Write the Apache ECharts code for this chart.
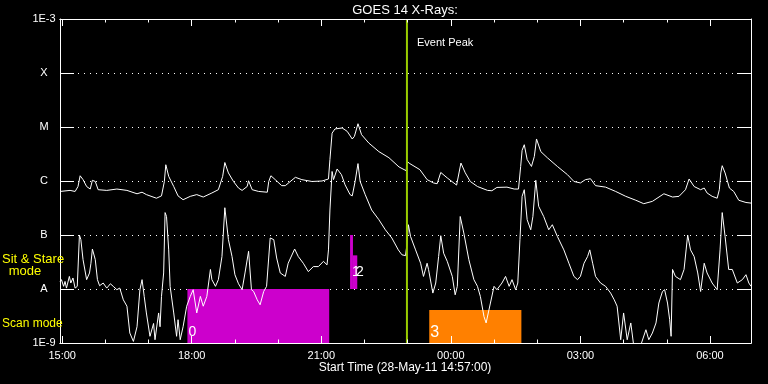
<!DOCTYPE html>
<html><head><meta charset="utf-8">
<script src="https://cdn.jsdelivr.net/npm/echarts@6/dist/echarts.min.js"></script>
<style>html,body{margin:0;padding:0;background:#000;}#c{width:768px;height:384px;}</style>
</head><body><div id="c"></div>
<script>
// ---- data ----
const chartTitle = 'GOES 14 X-Rays:';
const xAxisTitle = 'Start Time (28-May-11 14:57:00)';
const startTime = '14:57';
const spanHours = 16;
const xTickLabels = ['15:00','18:00','21:00','00:00','03:00','06:00'];
const hourTicks = ['15:00','16:00','17:00','18:00','19:00','20:00','21:00','22:00','23:00','00:00','01:00','02:00','03:00','04:00','05:00','06:00'];
const yTickValues = [1e-9,1e-8,1e-7,1e-6,1e-5,1e-4,1e-3];
const yTickLabels = ['1E-9','A','B','C','M','X','1E-3'];
const eventPeak = '22:59';

// long channel (1-8 A)
const longChannel = [['14:57',6.4e-7],['15:11',6.7e-7],['15:18',6.4e-7],['15:22',7.9e-7],['15:25',1.25e-6],['15:29',1.06e-6],['15:34',7.9e-7],['15:39',7.1e-7],['15:42',1.03e-6],['15:46',9.8e-7],['15:50',6.9e-7],['16:02',6.7e-7],['16:16',7.1e-7],['16:30',6.7e-7],['16:44',5.8e-7],['16:51',6.2e-7],['16:57',5.6e-7],['17:11',4.8e-7],['17:18',5.3e-7],['17:22',9.8e-7],['17:24',2.0e-6],['17:28',1.22e-6],['17:35',7.9e-7],['17:41',5.3e-7],['17:48',4.5e-7],['17:58',5.2e-7],['18:07',5.6e-7],['18:16',5.05e-7],['18:28',6.0e-7],['18:37',6.9e-7],['18:43',1.22e-6],['18:46',2.2e-6],['18:51',1.41e-6],['18:58',9.8e-7],['19:05',7.4e-7],['19:10',6.7e-7],['19:17',7.9e-7],['19:19',1.01e-6],['19:24',6.9e-7],['19:33',6.4e-7],['19:45',6.2e-7],['19:47',9.8e-7],['19:50',1.25e-6],['19:56',1.06e-6],['20:05',8.2e-7],['20:10',8.2e-7],['20:24',1.17e-6],['20:33',1.06e-6],['20:47',9.8e-7],['21:01',1.0e-6],['21:10',1.09e-6],['21:12',2.5e-6],['21:15',7.7e-6],['21:19',9.2e-6],['21:29',9.6e-6],['21:36',8.3e-6],['21:43',6.0e-6],['21:46',6.7e-6],['21:51',1.15e-5],['21:56',7.2e-6],['22:06',5.05e-6],['22:20',3.5e-6],['22:34',2.7e-6],['22:48',1.82e-6],['22:58',1.55e-6],['22:59',2.3e-6],['23:03',2.1e-6],['23:17',1.62e-6],['23:27',1.06e-6],['23:36',9.2e-7],['23:41',8.9e-7],['23:46',1.44e-6],['23:55',1.14e-6],['00:08',8.4e-7],['00:14',2.15e-6],['00:20',1.42e-6],['00:27',9.8e-7],['00:37',7.9e-7],['00:51',6.7e-7],['00:57',6.6e-7],['01:04',7.6e-7],['01:18',7.7e-7],['01:28',7.1e-7],['01:34',7.1e-7],['01:37',1.86e-6],['01:39',3.7e-6],['01:42',4.7e-6],['01:46',2.5e-6],['01:52',1.86e-6],['01:56',2.85e-6],['01:59',6.0e-6],['02:05',3.5e-6],['02:14',2.7e-6],['02:28',1.86e-6],['02:42',1.31e-6],['02:51',9.8e-7],['03:00',9.2e-7],['03:07',1.06e-6],['03:14',1.1e-6],['03:21',8.2e-7],['03:35',7.7e-7],['03:49',6.4e-7],['04:03',5.2e-7],['04:17',4.4e-7],['04:28',3.8e-7],['04:40',4.2e-7],['04:56',5.8e-7],['05:08',5.05e-7],['05:17',5.2e-7],['05:26',6.9e-7],['05:31',1.09e-6],['05:38',7.9e-7],['05:47',6.9e-7],['05:52',7.4e-7],['05:56',6.0e-7],['06:03',5.2e-7],['06:10',4.8e-7],['06:13',6.9e-7],['06:15',1.41e-6],['06:17',1.92e-6],['06:21',1.41e-6],['06:27',7.4e-7],['06:33',6.4e-7],['06:40',4.4e-7],['06:50',4.0e-7],['06:57',3.9e-7]];

// short channel (0.5-4 A)
const shortChannel = [['14:57',1.35e-8],['14:59',1.49e-8],['15:02',1.12e-8],['15:04',1.38e-8],['15:06',1.04e-8],['15:10',1.71e-8],['15:12',1.29e-8],['15:15',1.6e-8],['15:18',1.04e-8],['15:21',1.12e-8],['15:24',1.0e-7],['15:26',8.2e-8],['15:29',3.5e-8],['15:34',1.49e-8],['15:38',1.98e-8],['15:40',3.0e-8],['15:42',5.5e-8],['15:46',3.5e-8],['15:49',1.49e-8],['15:52',1.15e-8],['15:57',1.29e-8],['16:02',1.04e-8],['16:07',1.25e-8],['16:11',1.12e-8],['16:16',9.7e-9],['16:20',1.04e-8],['16:25',6.3e-9],['16:30',4.8e-9],['16:34',1.53e-9],['16:39',1.07e-9],['16:44',2.0e-9],['16:48',9.7e-9],['16:51',1.49e-8],['16:54',7.3e-9],['16:57',3.6e-9],['17:02',1.33e-9],['17:07',2.3e-9],['17:09',1.15e-9],['17:14',3.6e-9],['17:16',2.0e-9],['17:18',7.3e-9],['17:21',1.98e-8],['17:23',2.6e-7],['17:25',2.2e-7],['17:28',5.3e-8],['17:30',1.12e-8],['17:35',3.6e-9],['17:39',1.33e-9],['17:41',2.7e-9],['17:44',1.15e-9],['17:48',2.0e-9],['17:53',4.8e-9],['17:58',7.3e-9],['18:02',9.7e-9],['18:07',3.6e-9],['18:12',7.3e-9],['18:16',4.8e-9],['18:21',7.3e-9],['18:26',2.3e-8],['18:28',1.49e-8],['18:33',1.12e-8],['18:37',1.49e-8],['18:42',4.0e-8],['18:46',3.2e-7],['18:51',8.2e-8],['18:56',4.0e-8],['19:00',1.84e-8],['19:05',1.25e-8],['19:10',9.7e-9],['19:14',1.98e-8],['19:19',5.0e-8],['19:23',9.7e-9],['19:26',9.0e-9],['19:31',6.3e-9],['19:35',5.1e-9],['19:40',9.0e-9],['19:44',1.12e-8],['19:49',8.8e-8],['19:54',8.2e-8],['19:58',3.75e-8],['20:03',1.98e-8],['20:10',1.71e-8],['20:14',3.0e-8],['20:23',5.5e-8],['20:28',4.0e-8],['20:35',3.0e-8],['20:42',2.1e-8],['20:49',2.6e-8],['20:56',2.6e-8],['21:03',3.25e-8],['21:08',2.8e-8],['21:10',5.3e-8],['21:12',2.9e-7],['21:15',1.5e-6],['21:17',1.06e-6],['21:22',1.67e-6],['21:28',1.31e-6],['21:33',8.5e-7],['21:40',5.6e-7],['21:43',5.3e-7],['21:47',9.8e-7],['21:51',2.1e-6],['21:54',9.8e-7],['22:01',5.6e-7],['22:10',2.9e-7],['22:20',1.92e-7],['22:29',1.25e-7],['22:38',8.8e-8],['22:47',5.3e-8],['22:52',4.3e-8],['22:57',4.15e-8],['22:59',6.6e-8],['23:01',1.55e-7],['23:04',9.4e-8],['23:11',5.3e-8],['23:18',3.0e-8],['23:22',1.71e-8],['23:27',3.0e-8],['23:29',2.3e-8],['23:35',8.4e-9],['23:39',1.29e-8],['23:43',4.0e-8],['23:46',9.7e-8],['23:50',4.6e-8],['23:55',3.25e-8],['00:02',1.71e-8],['00:06',7.8e-9],['00:09',1.12e-8],['00:13',2.2e-7],['00:18',1.09e-7],['00:25',3.5e-8],['00:32',1.49e-8],['00:37',1.12e-8],['00:41',7.3e-9],['00:46',3.1e-9],['00:49',2.35e-9],['00:55',5.5e-9],['01:00',1.12e-8],['01:04',9.7e-9],['01:11',1.29e-8],['01:16',1.71e-8],['01:21',1.12e-8],['01:25',1.49e-8],['01:30',9.7e-9],['01:33',1.29e-8],['01:36',8.2e-8],['01:39',5.2e-7],['01:42',6.9e-7],['01:46',1.92e-7],['01:51',1.25e-7],['01:54',2.2e-7],['01:58',1.03e-6],['02:02',3.4e-7],['02:09',2.2e-7],['02:16',1.25e-7],['02:21',1.55e-7],['02:28',9.4e-8],['02:37',5.3e-8],['02:44',3.0e-8],['02:51',1.71e-8],['02:56',1.49e-8],['03:00',1.71e-8],['03:05',3.0e-8],['03:10',4.0e-8],['03:13',5.3e-8],['03:17',3.0e-8],['03:21',1.71e-8],['03:28',1.29e-8],['03:35',1.12e-8],['03:42',8.4e-9],['03:47',6.3e-9],['03:51',4.8e-9],['03:56',1.15e-9],['04:00',3.6e-9],['04:05',1.15e-9],['04:10',2.35e-9],['04:14',9e-10],['04:21',7e-10],['04:31',1.76e-9],['04:35',1.15e-9],['04:40',1.53e-9],['04:45',2.35e-9],['04:49',5.5e-9],['04:54',9.0e-9],['04:57',9.7e-9],['05:01',5.5e-9],['05:04',2.7e-9],['05:06',1.33e-9],['05:08',2.3e-8],['05:12',1.71e-8],['05:19',1.49e-8],['05:24',2.3e-8],['05:29',1.0e-7],['05:33',5.3e-8],['05:38',4.0e-8],['05:43',1.98e-8],['05:47',9.0e-9],['05:52',3.0e-8],['05:56',1.98e-8],['06:03',1.29e-8],['06:10',9.7e-9],['06:14',5.3e-8],['06:17',2.6e-7],['06:21',9.4e-8],['06:26',2.3e-8],['06:31',2.3e-8],['06:38',1.29e-8],['06:45',1.49e-8],['06:50',1.84e-8],['06:54',1.29e-8],['06:57',1.12e-8]];

// observation blocks
const obsLabels = ['0','1','2','3'];
const obsStart  = ['17:54','21:40','21:44','23:30'];
const obsEnd    = ['21:11','21:44','21:50','01:38'];
const obsLow    = [1e-9, 1e-8, 1e-8, 1e-9];
const obsHigh   = [1e-8, 1e-7, 4.2e-8, 4.1e-9];

// ---- styles ----
const FONT = '"Liberation Sans", Arial, sans-serif';
const obsColors = ['#cc00cc','#cc00cc','#cc00cc','#ff8000'];
const obsLabelDx = [1, 2, 3, 1];
const obsLabelLift = [4, 10, 10, 2];
const obsLabelSize = [14, 14, 14, 16];

function toHours(s){ const p = s.split(':').map(Number); let v = p[0] + p[1]/60; if (v < 12) v += 24; return v; }
const X0 = toHours(startTime), X1 = X0 + spanHours;
const majorVals = xTickLabels.map(toHours);
const minorVals = hourTicks.map(toHours);
const labelMap = {}; xTickLabels.forEach((l,i)=>{ labelMap[majorVals[i].toFixed(3)] = l; });

const chart = echarts.init(document.getElementById('c'), null, {renderer:'canvas'});

function xAx(pos, vals, len, showLabel){
  return {
    type:'value', min:X0, max:X1, position:pos, offset:0, z:10,
    axisLine:{show:true, lineStyle:{color:'#fff', width:1}},
    axisTick:{show:true, inside:true, length:len, customValues: vals, lineStyle:{color:'#fff', width:1}},
    axisLabel: showLabel ? {show:true, customValues: vals, color:'#fff', fontSize:11, fontFamily:FONT, margin:7,
      formatter: v => labelMap[v.toFixed(3)] || ''} : {show:false},
    splitLine:{show:false}
  };
}

const option = {
  backgroundColor:'#000',
  animation:false,
  grid:{left:60, right:17, top:19, bottom:41, show:false},
  xAxis:[
    xAx('bottom', majorVals, 7, true),
    xAx('bottom', minorVals, 3.5, false),
    xAx('top', majorVals, 7, false),
    xAx('top', minorVals, 3.5, false)
  ],
  yAxis:[
    {type:'log', logBase:10, min:1e-9, max:1e-3, position:'left',
     axisLine:{show:true, lineStyle:{color:'#fff'}},
     axisTick:{show:true, inside:true, length:14, lineStyle:{color:'#fff'}},
     axisLabel:{color:'#fff', fontSize:11, fontFamily:FONT, margin:16, align:'center',
       formatter: v => { const e = Math.round(Math.log10(v)); const i = yTickValues.findIndex(t => Math.round(Math.log10(t)) === e); return i >= 0 ? yTickLabels[i] : ''; }},
     splitLine:{show:true, lineStyle:{color:'#fff', width:1, type:[1,5]}}
    },
    {type:'log', logBase:10, min:1e-9, max:1e-3, position:'right',
     axisLine:{show:true, lineStyle:{color:'#fff'}},
     axisTick:{show:true, inside:true, length:14, lineStyle:{color:'#fff'}},
     axisLabel:{show:false}, splitLine:{show:false}}
  ],
  series:[
    {type:'custom', z:1, xAxisIndex:0, yAxisIndex:0,
     encode:{x:[0,1], y:[2,3]},
     data: obsLabels.map((l,i)=>[toHours(obsStart[i]), toHours(obsEnd[i]), obsLow[i], obsHigh[i], i]),
     renderItem:(params, api)=>{
       const i = api.value(4);
       const p0 = api.coord([api.value(0), api.value(3)]);
       const p1 = api.coord([api.value(1), api.value(2)]);
       return {type:'group', children:[
         {type:'rect', shape:{x:p0[0], y:p0[1], width:p1[0]-p0[0], height:p1[1]-p0[1]}, style:{fill:obsColors[i]}},
         {type:'text', x:p0[0]+obsLabelDx[i], y:p1[1]-obsLabelLift[i], z2:5,
          style:{text:obsLabels[i], fill:'#fff', font: obsLabelSize[i]+'px '+FONT, align:'left', verticalAlign:'bottom'}}
       ]};
     }},
    {type:'line', z:3, showSymbol:false, symbol:'none', clip:true,
     lineStyle:{color:'#fff', width:1}, data: longChannel.map(d=>[toHours(d[0]), d[1]])},
    {type:'line', z:3, showSymbol:false, symbol:'none', clip:true,
     lineStyle:{color:'#fff', width:1}, data: shortChannel.map(d=>[toHours(d[0]), d[1]])},
    {type:'line', z:4, showSymbol:false, symbol:'none', clip:true,
     lineStyle:{color:'#99cc00', width:2}, data:[[toHours(eventPeak), 1e-9],[toHours(eventPeak), 1e-3]]}
  ],
  graphic:[
    {type:'text', x:405, y:10, style:{text:chartTitle, fill:'#fff', font:'13px '+FONT, align:'center', verticalAlign:'middle'}},
    {type:'text', x:405, y:368, style:{text:xAxisTitle, fill:'#fff', font:'12px '+FONT, align:'center', verticalAlign:'middle'}},
    {type:'text', x:417, y:43, z:20, style:{text:'Event Peak', fill:'#fff', font:'11px '+FONT, align:'left', verticalAlign:'middle'}},
    {type:'text', x:2, y:259, z:20, style:{text:'Sit & Stare', fill:'#ffff00', font:'13px '+FONT, align:'left', verticalAlign:'middle'}},
    {type:'text', x:25, y:271, z:20, style:{text:'mode', fill:'#ffff00', font:'13px '+FONT, align:'center', verticalAlign:'middle'}},
    {type:'text', x:2, y:324, z:20, style:{text:'Scan mode', fill:'#ffff00', font:'12px '+FONT, align:'left', verticalAlign:'middle'}}
  ]
};
chart.setOption(option);
</script>
</body></html>
